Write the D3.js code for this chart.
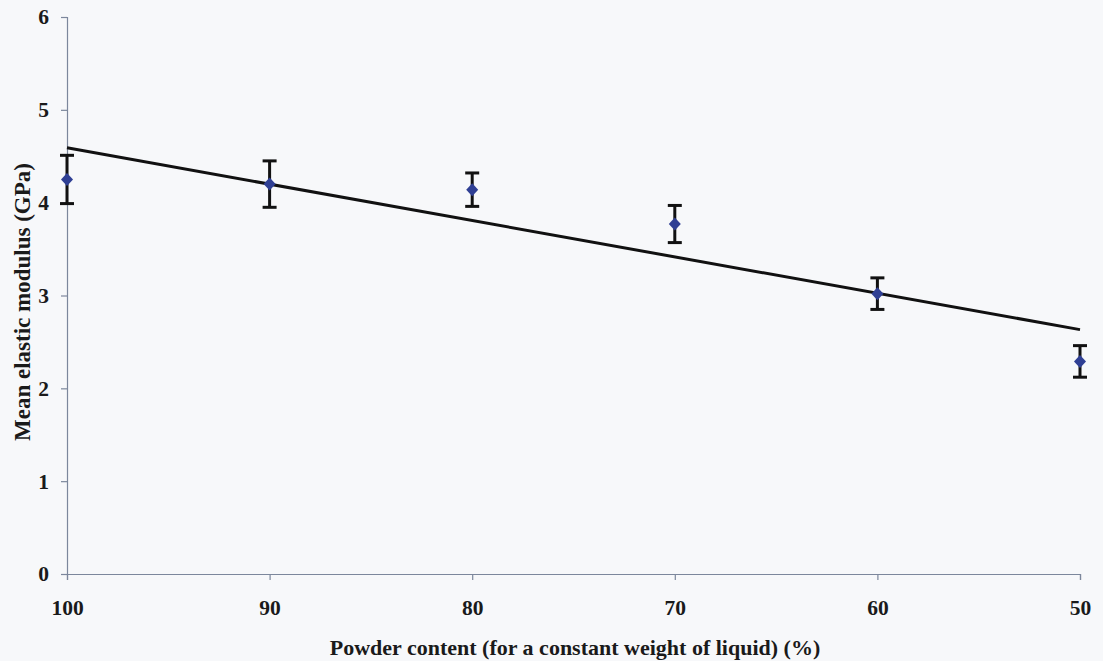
<!DOCTYPE html>
<html>
<head>
<meta charset="utf-8">
<script src="https://cdn.jsdelivr.net/npm/d3@7"></script>
<style>
  html, body { margin: 0; padding: 0; background: #f7f8fa; }
  svg { display: block; }
</style>
</head>
<body>
<svg id="chart" width="1103" height="661"></svg>
<script>
// Powder content (%) and measured mean elastic modulus (GPa) with error
const powderContent = [100, 90, 80, 70, 60, 50];
const meanModulus   = [4.25, 4.20, 4.14, 3.77, 3.02, 2.29];
const modulusError  = [0.26, 0.25, 0.18, 0.20, 0.17, 0.17];
const xTicks = [100, 90, 80, 70, 60, 50];
const yTicks = [0, 1, 2, 3, 4, 5, 6];

const FONT = "Liberation Serif, Times New Roman, serif";
const svg = d3.select("#chart");
const margin = { left: 67, right: 23, top: 17, bottom: 87 };
const W = 1103, H = 661;

const x = d3.scaleLinear().domain([100, 50]).range([margin.left, W - margin.right]);
const y = d3.scaleLinear().domain([0, 6]).range([H - margin.bottom, margin.top]);

const axisColor = "#7c879c";

// Y axis
const yAxis = svg.append("g")
  .attr("transform", `translate(${margin.left},0)`)
  .call(d3.axisLeft(y).tickValues(yTicks).tickSize(6).tickPadding(12).tickFormat(d3.format("d")));
// X axis
const xAxis = svg.append("g")
  .attr("transform", `translate(0,${H - margin.bottom})`)
  .call(d3.axisBottom(x).tickValues(xTicks).tickSize(6).tickPadding(20).tickFormat(d3.format("d")));

[yAxis, xAxis].forEach(g => {
  g.attr("font-family", FONT).attr("font-size", 21.5).attr("font-weight", "bold");
  g.select(".domain").attr("stroke", axisColor).attr("stroke-width", 1.2);
  g.selectAll(".tick line").attr("stroke", axisColor).attr("stroke-width", 1.2);
  g.selectAll(".tick text").attr("fill", "#1a1a1a");
});

// Axis titles
svg.append("text")
  .attr("x", 575)
  .attr("y", 655)
  .attr("text-anchor", "middle")
  .attr("font-family", FONT).attr("font-weight", "bold").attr("font-size", 22)
  .attr("fill", "#1a1a1a")
  .text("Powder content (for a constant weight of liquid) (%)");

svg.append("text")
  .attr("transform", "translate(30,302) rotate(-90)")
  .attr("text-anchor", "middle")
  .attr("font-family", FONT).attr("font-weight", "bold").attr("font-size", 23)
  .attr("fill", "#1a1a1a")
  .text("Mean elastic modulus (GPa)");

// Linear trend line (least squares through the means)
const n = powderContent.length;
const mx = d3.mean(powderContent), my = d3.mean(meanModulus);
let sxy = 0, sxx = 0;
for (let i = 0; i < n; i++) {
  sxy += (powderContent[i] - mx) * (meanModulus[i] - my);
  sxx += (powderContent[i] - mx) ** 2;
}
const slope = sxy / sxx, intercept = my - slope * mx;
const trendX = [100, 50];
svg.append("path")
  .attr("d", d3.line()(trendX.map(v => [x(v), y(intercept + slope * v)])))
  .attr("stroke", "#111")
  .attr("stroke-width", 3)
  .attr("fill", "none");

// Error bars
const data = powderContent.map((p, i) => ({ p, m: meanModulus[i], e: modulusError[i] }));
const eb = svg.append("g").attr("stroke", "#111").attr("stroke-width", 3);
data.forEach(d => {
  eb.append("line").attr("x1", x(d.p)).attr("x2", x(d.p)).attr("y1", y(d.m + d.e)).attr("y2", y(d.m - d.e));
  [d.m + d.e, d.m - d.e].forEach(v => {
    eb.append("line").attr("x1", x(d.p) - 7).attr("x2", x(d.p) + 7).attr("y1", y(v)).attr("y2", y(v));
  });
});

// Diamond markers
svg.append("g").selectAll("path")
  .data(data)
  .join("path")
  .attr("transform", d => `translate(${x(d.p)},${y(d.m)})`)
  .attr("d", "M0,-6.5L6,0L0,6.5L-6,0Z")
  .attr("fill", "#2f3f94");
</script>
</body>
</html>
